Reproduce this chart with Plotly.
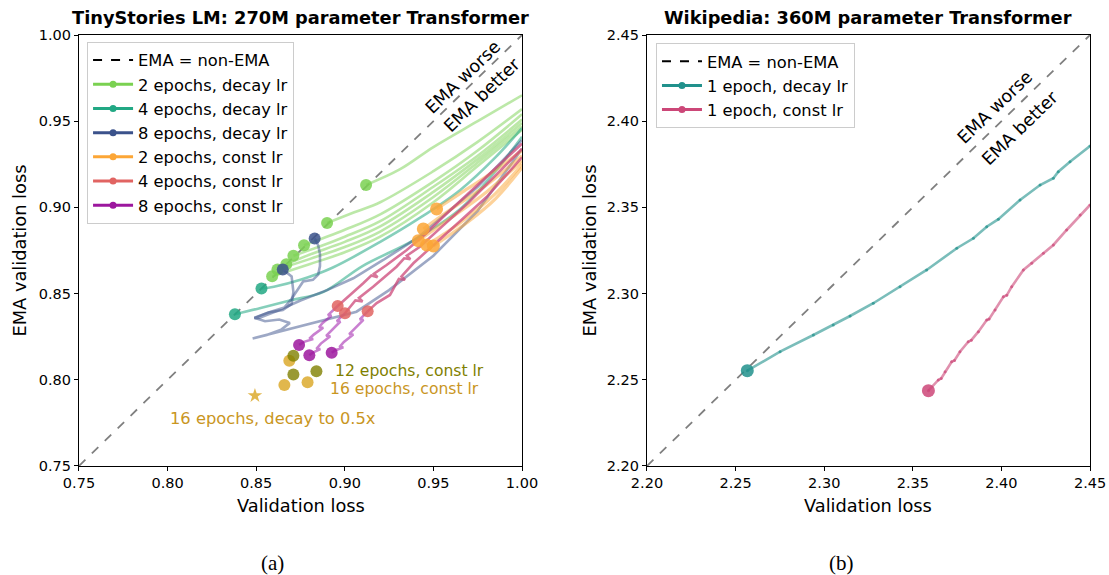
import plotly.graph_objects as go

# ---------------- panel (a): TinyStories, 270M ----------------
ax_ticks = [0.75, 0.80, 0.85, 0.90, 0.95, 1.00]

# 2 epochs, decay lr (each run: final point first, then earlier checkpoints)
g1_x = [0.912, 0.931, 0.950, 0.975, 1.000]
g1_y = [0.913, 0.922, 0.935, 0.950, 0.965]
g2_x = [0.890, 0.905, 0.920, 0.950, 0.975, 1.000]
g2_y = [0.891, 0.897, 0.903, 0.921, 0.938, 0.957]
g3_x = [0.877, 0.900, 0.920, 0.950, 0.975, 1.000]
g3_y = [0.878, 0.887, 0.896, 0.915, 0.933, 0.954]
g4_x = [0.871, 0.885, 0.900, 0.920, 0.950, 0.975, 1.000]
g4_y = [0.872, 0.877, 0.883, 0.892, 0.912, 0.930, 0.951]
g5_x = [0.867, 0.880, 0.900, 0.920, 0.950, 0.975, 1.000]
g5_y = [0.867, 0.8725, 0.880, 0.889, 0.909, 0.928, 0.949]
g6_x = [0.862, 0.880, 0.900, 0.920, 0.950, 0.975, 1.000]
g6_y = [0.864, 0.870, 0.877, 0.886, 0.906, 0.926, 0.947]
g7_x = [0.859, 0.880, 0.900, 0.920, 0.950, 0.975, 1.000]
g7_y = [0.860, 0.867, 0.874, 0.883, 0.903, 0.924, 0.945]

# 4 epochs, decay lr
t1_x = [0.853, 0.860, 0.875, 0.893, 0.920, 0.941, 0.965, 0.985, 1.000]
t1_y = [0.853, 0.854, 0.858, 0.865, 0.880, 0.893, 0.910, 0.929, 0.946]
t2_x = [0.838, 0.852, 0.869, 0.888, 0.910, 0.939, 0.965, 0.985, 1.000]
t2_y = [0.838, 0.8415, 0.846, 0.851, 0.866, 0.881, 0.899, 0.921, 0.941]

# 8 epochs, decay lr (in training order, ending at the final checkpoint)
b1_x = [1.000, 0.975, 0.950, 0.925, 0.9066, 0.890, 0.875, 0.860, 0.848, 0.856, 0.864, 0.869,
        0.863, 0.855, 0.849, 0.857, 0.865, 0.870, 0.871, 0.870, 0.865]
b1_y = [0.934, 0.898, 0.872, 0.852, 0.8395, 0.835, 0.831, 0.827, 0.824, 0.826, 0.829, 0.833,
        0.835, 0.834, 0.836, 0.839, 0.8405, 0.844, 0.851, 0.860, 0.864]
b2_x = [1.000, 0.975, 0.9406, 0.9217, 0.9048, 0.890, 0.875, 0.862, 0.852, 0.849, 0.857, 0.866,
        0.870, 0.874, 0.8765, 0.882, 0.885, 0.886, 0.886, 0.885, 0.883]
b2_y = [0.939, 0.912, 0.882, 0.8695, 0.8589, 0.852, 0.846, 0.840, 0.836, 0.8357, 0.839, 0.842,
        0.847, 0.853, 0.857, 0.858, 0.861, 0.866, 0.873, 0.878, 0.882]

# 2 epochs, const lr
o1_x = [0.9518, 0.965, 0.980, 1.000]
o1_y = [0.8991, 0.908, 0.918, 0.933]
o2_x = [0.9443, 0.960, 0.980, 1.000]
o2_y = [0.8875, 0.899, 0.913, 0.930]
o3_x = [0.9415, 0.960, 0.980, 1.000]
o3_y = [0.8807, 0.894, 0.909, 0.927]
o4_x = [0.9462, 0.965, 0.985, 1.000]
o4_y = [0.8782, 0.891, 0.908, 0.925]
o5_x = [0.9500, 0.970, 0.985, 1.000]
o5_y = [0.8776, 0.892, 0.905, 0.923]

# 4 epochs, const lr (training order)
r1_x = [1.000, 0.980, 0.965, 0.9556, 0.946, 0.935, 0.9236, 0.9165, 0.9185, 0.915, 0.9104, 0.903, 0.896]
r1_y = [0.937, 0.918, 0.904, 0.8946, 0.885, 0.8753, 0.8666, 0.8615, 0.8595, 0.8605, 0.856, 0.849, 0.8428]
r2_x = [1.000, 0.970, 0.955, 0.9424, 0.935, 0.937, 0.9335, 0.9292, 0.916, 0.908, 0.910, 0.906, 0.9001]
r2_y = [0.934, 0.903, 0.889, 0.8772, 0.872, 0.870, 0.8705, 0.8656, 0.854, 0.8475, 0.8455, 0.846, 0.8386]
r3_x = [1.000, 0.980, 0.965, 0.950, 0.9387, 0.932, 0.934, 0.9305, 0.9255, 0.918, 0.9129]
r3_y = [0.929, 0.906, 0.892, 0.8782, 0.8676, 0.860, 0.858, 0.8585, 0.8492, 0.8445, 0.8397]

# 8 epochs, const lr (continuing from the 4-epoch checkpoints)
p1_x = [0.896, 0.8905, 0.8925, 0.8875, 0.8855, 0.8878, 0.8825, 0.880, 0.8822, 0.877, 0.8742]
p1_y = [0.8428, 0.8375, 0.8372, 0.833, 0.8305, 0.8302, 0.8262, 0.8238, 0.8236, 0.822, 0.8202]
p2_x = [0.9001, 0.8955, 0.8975, 0.892, 0.8895, 0.8918, 0.8865, 0.884, 0.8862, 0.882, 0.880]
p2_y = [0.8386, 0.834, 0.8338, 0.8285, 0.8255, 0.8253, 0.821, 0.818, 0.8178, 0.8158, 0.8142]
p3_x = [0.9129, 0.9085, 0.9105, 0.905, 0.9025, 0.9048, 0.8995, 0.897, 0.8992, 0.8945, 0.8926]
p3_y = [0.8397, 0.835, 0.8348, 0.8295, 0.8265, 0.8263, 0.822, 0.819, 0.8188, 0.817, 0.8157]

# final checkpoints
green_dot_x = [0.912, 0.890, 0.877, 0.871, 0.867, 0.862, 0.859]
green_dot_y = [0.913, 0.891, 0.878, 0.872, 0.867, 0.864, 0.860]
teal_dot_x = [0.853, 0.838]
teal_dot_y = [0.853, 0.838]
blue_dot_x = [0.865, 0.883]
blue_dot_y = [0.864, 0.882]
orange_dot_x = [0.9518, 0.9443, 0.9415, 0.9462, 0.9500]
orange_dot_y = [0.8991, 0.8875, 0.8807, 0.8782, 0.8776]
salmon_dot_x = [0.896, 0.9001, 0.9129]
salmon_dot_y = [0.8428, 0.8386, 0.8397]
purple_dot_x = [0.8742, 0.880, 0.8926]
purple_dot_y = [0.8202, 0.8142, 0.8157]
ep12_x = [0.871, 0.871, 0.884]
ep12_y = [0.814, 0.803, 0.805]
ep16_x = [0.8687, 0.8659, 0.879]
ep16_y = [0.8111, 0.797, 0.7986]
ep16_decay_x = [0.8493]
ep16_decay_y = [0.7908]

# ---------------- panel (b): Wikipedia, 360M ----------------
bx_ticks = [2.20, 2.25, 2.30, 2.35, 2.40, 2.45]
wd_x = [2.2566, 2.2751, 2.2939, 2.3051, 2.3146, 2.3277, 2.3428, 2.3578, 2.3748, 2.3842,
        2.3917, 2.3983, 2.4105, 2.4218, 2.4293, 2.4321, 2.4387, 2.4500]
wd_y = [2.2553, 2.2663, 2.2760, 2.2818, 2.2870, 2.2944, 2.3040, 2.3137, 2.3263, 2.3321,
        2.3388, 2.3432, 2.3543, 2.3630, 2.3669, 2.3707, 2.3765, 2.3856]
wc_x = [2.3588, 2.3644, 2.3660, 2.3682, 2.3719, 2.3735, 2.3766, 2.3813, 2.3830, 2.3870,
        2.3917, 2.3930, 2.3964, 2.4011, 2.4030, 2.4058, 2.4124, 2.4171, 2.4237, 2.4293,
        2.4368, 2.4444, 2.4500]
wc_y = [2.2437, 2.2499, 2.2508, 2.2547, 2.2605, 2.2612, 2.2663, 2.2721, 2.2730, 2.2779,
        2.2847, 2.2852, 2.2905, 2.2982, 2.2990, 2.3040, 2.3137, 2.3176, 2.3234, 2.3282,
        2.3369, 2.3456, 2.3514]

FONT = "DejaVu Sans"

C_GREEN = "#7ad151"
C_TEAL = "#22a884"
C_BLUE = "#3b528b"
C_ORANGE = "#fca636"
C_SALMON = "#e16462"
C_PURPLE = "#9c179e"
C_WTEAL = "#21918c"
C_WPINK = "#cc4778"

fig = go.Figure()


def add_line(x, y, color, width=2.6, xa="x", ya="y", shape="linear", dash=None):
    fig.add_trace(go.Scatter(x=x, y=y, mode="lines", xaxis=xa, yaxis=ya,
                             line=dict(color=color, width=width, shape=shape, dash=dash),
                             showlegend=False, hoverinfo="skip"))


def add_dots(x, y, color, size=12, symbol="circle", xa="x", ya="y"):
    fig.add_trace(go.Scatter(x=x, y=y, mode="markers", xaxis=xa, yaxis=ya,
                             marker=dict(color=color, size=size, symbol=symbol,
                                         line=dict(width=0)),
                             showlegend=False, hoverinfo="skip"))


# diagonals (EMA loss equal to the raw loss)
add_line([0.75, 1.0], [0.75, 1.0], "rgba(0,0,0,0.5)", width=1.8, dash="dash")
add_line([2.20, 2.45], [2.20, 2.45], "rgba(0,0,0,0.5)", width=1.8, xa="x2", ya="y2", dash="dash")

# trajectories, panel (a)
for gx, gy in [(g1_x, g1_y), (g2_x, g2_y), (g3_x, g3_y), (g4_x, g4_y),
               (g5_x, g5_y), (g6_x, g6_y), (g7_x, g7_y)]:
    add_line(gx, gy, "rgba(122,209,81,0.5)", shape="spline")
for tx, ty in [(t1_x, t1_y), (t2_x, t2_y)]:
    add_line(tx, ty, "rgba(34,168,132,0.55)", shape="spline")
for bx, by in [(b1_x, b1_y), (b2_x, b2_y)]:
    add_line(bx, by, "rgba(59,82,139,0.5)")
for ox, oy in [(o1_x, o1_y), (o2_x, o2_y), (o3_x, o3_y), (o4_x, o4_y), (o5_x, o5_y)]:
    add_line(ox, oy, "rgba(252,166,54,0.5)", width=3.2, shape="spline")
for rx, ry in [(r1_x, r1_y), (r2_x, r2_y), (r3_x, r3_y)]:
    add_line(rx, ry, "rgba(204,71,120,0.75)")
for px, py in [(p1_x, p1_y), (p2_x, p2_y), (p3_x, p3_y)]:
    add_line(px, py, "rgba(156,23,170,0.55)")

# checkpoints, panel (a)
add_dots(green_dot_x, green_dot_y, "rgba(122,209,81,0.85)")
add_dots(teal_dot_x, teal_dot_y, "rgba(34,168,132,0.85)")
add_dots(blue_dot_x, blue_dot_y, "rgba(59,82,139,0.85)")
add_dots(orange_dot_x, orange_dot_y, "rgba(252,166,54,0.85)", size=13)
add_dots(salmon_dot_x, salmon_dot_y, "rgba(225,100,98,0.85)")
add_dots(purple_dot_x, purple_dot_y, "rgba(156,23,158,0.85)")
add_dots(ep16_x, ep16_y, "rgba(218,165,32,0.8)")
add_dots(ep12_x, ep12_y, "rgba(128,128,0,0.8)")
add_dots(ep16_decay_x, ep16_decay_y, "rgba(218,165,32,0.8)", size=11, symbol="star")

# panel (b)
fig.add_trace(go.Scatter(x=wd_x, y=wd_y, mode="lines+markers", xaxis="x2", yaxis="y2",
                         line=dict(color="rgba(33,145,140,0.6)", width=2.6),
                         marker=dict(color="rgba(33,145,140,0.7)", size=3),
                         showlegend=False, hoverinfo="skip"))
fig.add_trace(go.Scatter(x=wc_x, y=wc_y, mode="lines+markers", xaxis="x2", yaxis="y2",
                         line=dict(color="rgba(204,71,120,0.6)", width=2.6),
                         marker=dict(color="rgba(204,71,120,0.7)", size=3),
                         showlegend=False, hoverinfo="skip"))
add_dots([wd_x[0]], [wd_y[0]], "rgba(33,145,140,0.85)", size=13, xa="x2", ya="y2")
add_dots([wc_x[0]], [wc_y[0]], "rgba(204,71,120,0.85)", size=13, xa="x2", ya="y2")


# legend entries
def legend_entry(name, color, legend, dash=None, group=None):
    if dash:
        fig.add_trace(go.Scatter(x=[None], y=[None], mode="lines", name=name,
                                 line=dict(color=color, width=2, dash=dash),
                                 legend=legend, legendgroup=group))
    else:
        fig.add_trace(go.Scatter(x=[None], y=[None], mode="lines+markers", name=name,
                                 line=dict(color=color, width=3),
                                 marker=dict(color=color, size=7),
                                 legend=legend, legendgroup=group))


for i, (nm, col) in enumerate([("EMA = non-EMA", "black"),
                               ("2 epochs, decay lr", C_GREEN),
                               ("4 epochs, decay lr", C_TEAL),
                               ("8 epochs, decay lr", C_BLUE),
                               ("2 epochs, const lr", C_ORANGE),
                               ("4 epochs, const lr", C_SALMON),
                               ("8 epochs, const lr", C_PURPLE)]):
    legend_entry(nm, col, "legend", dash="dash" if i == 0 else None, group=f"a{i}")

for i, (nm, col) in enumerate([("EMA = non-EMA", "black"),
                               ("1 epoch, decay lr", C_WTEAL),
                               ("1 epoch, const lr", C_WPINK)]):
    legend_entry(nm, col, "legend2", dash="dash" if i == 0 else None, group=f"b{i}")

axis_common = dict(showline=True, mirror=True, linecolor="black", linewidth=1.2,
                   ticks="outside", ticklen=4, tickwidth=1, tickcolor="black",
                   showgrid=False, zeroline=False, tickformat=".2f", automargin=False,
                   tickfont=dict(family=FONT, size=14.5, color="black"))

legend_common = dict(font=dict(family=FONT, size=16.3, color="black"),
                     bgcolor="rgba(255,255,255,0.85)", bordercolor="#cccccc",
                     borderwidth=1, xanchor="left", yanchor="top",
                     tracegroupgap=0, itemwidth=40)

fig.update_layout(
    width=1109, height=575,
    margin=dict(l=0, r=0, t=0, b=0, autoexpand=False),
    paper_bgcolor="white", plot_bgcolor="white",
    font=dict(family=FONT, color="black"),
    xaxis=dict(domain=[0.0712, 0.4707], range=[0.75, 1.0], tickvals=ax_ticks,
               anchor="y", **axis_common),
    yaxis=dict(domain=[0.1896, 0.9391], range=[0.75, 1.0], tickvals=ax_ticks,
               anchor="x", **axis_common),
    xaxis2=dict(domain=[0.5834, 0.9829], range=[2.20, 2.45], tickvals=bx_ticks,
                anchor="y2", **axis_common),
    yaxis2=dict(domain=[0.1896, 0.9391], range=[2.20, 2.45], tickvals=bx_ticks,
                anchor="x2", **axis_common),
    legend=dict(x=0.0785, y=0.927, **legend_common),
    legend2=dict(x=0.5915, y=0.925, **legend_common),
)


def paper_text(text, x, y, size, angle=0, family=FONT):
    return dict(text=text, x=x, y=y, xref="paper", yref="paper", xanchor="center",
                yanchor="middle", showarrow=False, textangle=angle,
                font=dict(size=size, family=family, color="black"))


ann = [
    paper_text("<b>TinyStories LM: 270M parameter Transformer</b>", 0.271, 0.9687, 17.8),
    paper_text("<b>Wikipedia: 360M parameter Transformer</b>", 0.7831, 0.9687, 17.8),
    paper_text("Validation loss", 0.271, 0.1217, 17.8),
    paper_text("Validation loss", 0.7831, 0.1217, 17.8),
    paper_text("EMA validation loss", 0.018, 0.5643, 17.8, angle=-90),
    paper_text("EMA validation loss", 0.532, 0.5643, 17.8, angle=-90),
    paper_text("(a)", 0.2453, 0.0209, 21, family="Liberation Serif"),
    paper_text("(b)", 0.7592, 0.0209, 21, family="Liberation Serif"),
]


def data_text(text, x, y, xr, yr, size=16.5, angle=0, color="black", xanchor="center"):
    return dict(text=text, x=x, y=y, xref=xr, yref=yr, xanchor=xanchor, yanchor="middle",
                showarrow=False, textangle=angle, font=dict(size=size, color=color))


ann += [
    data_text("EMA worse", 0.9667, 0.9756, "x", "y", size=17.5, angle=-44),
    data_text("EMA better", 0.9774, 0.9652, "x", "y", size=17.5, angle=-44),
    data_text("EMA worse", 2.3964, 2.4082, "x2", "y2", size=17.5, angle=-44),
    data_text("EMA better", 2.4105, 2.3961, "x2", "y2", size=17.5, angle=-44),
    data_text("12 epochs, const lr", 0.8934, 0.8053, "x", "y", size=15.6,
              color="#808000", xanchor="left"),
    data_text("16 epochs, const lr", 0.8906, 0.7945, "x", "y", size=15.6,
              color="#c9961f", xanchor="left"),
    data_text("16 epochs, decay to 0.5x", 0.8002, 0.7778, "x", "y", size=16.3,
              color="#c9961f", xanchor="left"),
]
fig.update_layout(annotations=ann)

fig.write_html("out.html")
